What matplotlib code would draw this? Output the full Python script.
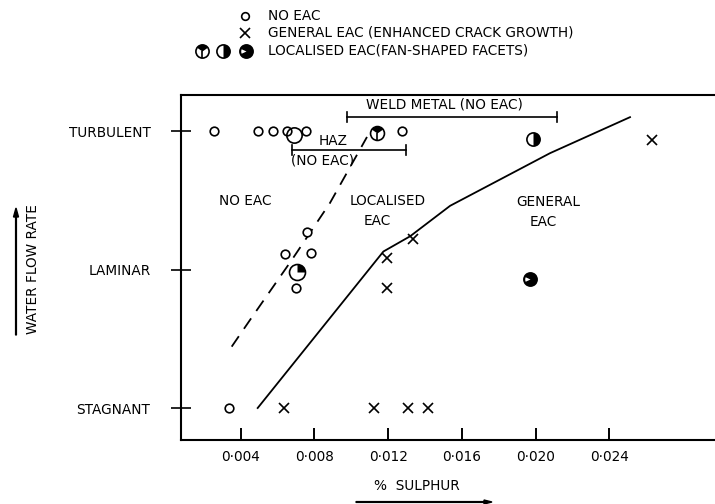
import numpy as np
import matplotlib
matplotlib.use("Agg")
import matplotlib.pyplot as plt
from matplotlib.path import Path
from matplotlib.transforms import Affine2D

plt.rcParams['font.family'] = ['DejaVu Sans']

# ---------------- data ----------------
flow_ticks = [0, 1, 2]
flow_labels = ["STAGNANT", "LAMINAR", "TURBULENT"]
sulphur_ticks = [0.004, 0.008, 0.012, 0.016, 0.020, 0.024]
sulphur_labels = ["0·004", "0·008", "0·012", "0·016", "0·020", "0·024"]

no_eac_x = [0.00257, 0.00492, 0.00574, 0.00649, 0.00754, 0.01273,
            0.00758, 0.00640, 0.00781, 0.00700, 0.00338]
no_eac_y = [2.0, 2.0, 2.0, 2.0, 2.0, 2.0, 1.27, 1.11, 1.12, 0.87, 0.0]
no_eac_big_x = [0.00689]
no_eac_big_y = [1.97]

general_x = [0.00635, 0.01125, 0.01309, 0.01415, 0.01192, 0.01192, 0.01333, 0.0263]
general_y = [0.0, 0.0, 0.0, 0.0, 1.085, 0.87, 1.22, 1.935]

local_x = [0.01138, 0.00704, 0.01984, 0.0197]
local_y = [1.985, 0.985, 1.94, 0.935]
local_kind = ["stem", "quarter", "half", "dark"]

general_boundary_x = [0.00492, 0.01174, 0.01319, 0.01536, 0.02078, 0.02512]
general_boundary_y = [0.0, 1.13, 1.24, 1.46, 1.84, 2.10]
noeac_boundary_x = [0.00351, 0.0045, 0.00677, 0.00884, 0.01085]
noeac_boundary_y = [0.443, 0.635, 1.069, 1.48, 1.957]

haz_range = [0.00677, 0.01297]
haz_level = 1.863
weld_range = [0.00978, 0.02118]
weld_level = 2.103

# ---------------- figure ----------------
W, H = 715, 504
fig = plt.figure(figsize=(W / 100, H / 100), dpi=100)
ax = fig.add_axes([181 / W, (H - 440) / H, (W - 181) / W, (440 - 95) / H])
ax.set_xlim(0.00076, 0.02973)
ax.set_ylim(-0.231, 2.26)

FS = 9.8
LW = 1.2

# custom marker paths
def wedge(t1, t2, n=40):
    t = np.radians(np.linspace(t1, t2, n))
    verts = [(0, 0)] + list(zip(np.cos(t), np.sin(t))) + [(0, 0)]
    codes = [Path.MOVETO] + [Path.LINETO] * n + [Path.CLOSEPOLY]
    return Path(verts, codes)

stem = Path([(0, 0), (0, -1)], [Path.MOVETO, Path.LINETO])


def draw_local(target, x, y, kind, size, **kw):
    if kind == "dark":
        target.plot(x, y, 'o', ms=size, mfc='black', mec='black', mew=LW, **kw)
        target.plot(x, y, ls='none', marker=wedge(155, 205), ms=size * 0.8,
                    mfc='white', mec='white', mew=0, **kw)
        return
    if kind == "stem":
        target.plot(x, y, ls='none', marker=wedge(35, 145), ms=size,
                    mfc='black', mec='black', mew=0, **kw)
        target.plot(x, y, ls='none', marker=stem, ms=size, mec='black', mew=LW, **kw)
    elif kind == "quarter":
        target.plot(x, y, ls='none', marker=wedge(0, 90), ms=size,
                    mfc='black', mec='black', mew=0, **kw)
    elif kind == "half":
        target.plot(x, y, ls='none', marker=wedge(-90, 90), ms=size,
                    mfc='black', mec='black', mew=0, **kw)
    target.plot(x, y, 'o', ms=size, mfc='none', mec='black', mew=LW, **kw)


# boundaries
ax.plot(general_boundary_x, general_boundary_y, color='black', lw=1.3)
ax.plot(noeac_boundary_x, noeac_boundary_y, color='black', lw=1.3,
        dashes=(7, 5))

# data points
ax.plot(no_eac_x, no_eac_y, 'o', ms=6.2, mfc='white', mec='black', mew=LW, ls='none')
ax.plot(no_eac_big_x, no_eac_big_y, 'o', ms=11, mfc='none', mec='black', mew=LW, ls='none')
ax.plot(general_x, general_y, 'x', ms=7, mec='black', mew=LW, ls='none')
local_sizes = {"stem": 10, "quarter": 11.5, "half": 9.5, "dark": 9.5}
for x, y, k in zip(local_x, local_y, local_kind):
    draw_local(ax, [x], [y], k, local_sizes[k])

# range brackets
for rng, lev in [(haz_range, haz_level), (weld_range, weld_level)]:
    ax.plot(rng, [lev, lev], color='black', lw=1.2)
    ax.plot([rng[0], rng[0]], [lev - 0.035, lev + 0.035], color='black', lw=1.2)
    ax.plot([rng[1], rng[1]], [lev - 0.035, lev + 0.035], color='black', lw=1.2)

ax.text(0.00900, 1.928, "HAZ", ha='center', va='center', fontsize=FS)
ax.text(0.00844, 1.79, "(NO EAC)", ha='center', va='center', fontsize=FS)
ax.text(0.01503, 2.195, "WELD METAL (NO EAC)", ha='center', va='center', fontsize=FS)

# region labels
ax.text(0.00423, 1.495, "NO EAC", ha='center', va='center', fontsize=FS)
ax.text(0.01199, 1.495, "LOCALISED", ha='center', va='center', fontsize=FS)
ax.text(0.01139, 1.35, "EAC", ha='center', va='center', fontsize=FS)
ax.text(0.02067, 1.487, "GENERAL", ha='center', va='center', fontsize=FS)
ax.text(0.02040, 1.343, "EAC", ha='center', va='center', fontsize=FS)

# axes styling
ax.set_xticks(sulphur_ticks)
ax.set_xticklabels(sulphur_labels, fontsize=FS)
ax.set_yticks(flow_ticks)
ax.set_yticklabels(flow_labels, fontsize=FS)
ax.tick_params(axis='x', direction='in', length=8.5, width=1.4, pad=7)
ax.tick_params(axis='y', direction='inout', length=14, width=1.2, pad=15)
for s in ['left', 'bottom', 'top']:
    ax.spines[s].set_linewidth(1.5)
ax.spines['right'].set_visible(False)

# ---------------- outside annotations (pixel layout) ----------------
pix = Affine2D().scale(1 / W, -1 / H).translate(0, 1) + fig.transFigure

fig.text(417 / W, 1 - 486 / H, "%  SULPHUR", ha='center', va='center', fontsize=FS)
fig.patches.append(matplotlib.patches.FancyArrow(
    356, 502, 136, 0, width=0.8, head_width=4, head_length=8, length_includes_head=True,
    transform=pix, color='black'))

fig.text(33 / W, 1 - 269 / H, "WATER FLOW RATE", ha='center', va='center',
         rotation=90, fontsize=FS)
fig.patches.append(matplotlib.patches.FancyArrow(
    16, 335, 0, -127, width=0.8, head_width=5, head_length=9, length_includes_head=True,
    transform=pix, color='black'))

# legend block
leg_text = ["NO EAC", "GENERAL EAC (ENHANCED CRACK GROWTH)",
            "LOCALISED EAC(FAN-SHAPED FACETS)"]
leg_rows = [16, 33, 51]
for t, yrow in zip(leg_text, leg_rows):
    fig.text(268 / W, 1 - yrow / H, t, ha='left', va='center', fontsize=FS)
fig.add_artist(plt.Line2D([245], [16], marker='o', ms=5.5, mfc='none', mec='black',
                          mew=LW, ls='none', transform=pix))
fig.add_artist(plt.Line2D([245], [33], marker='x', ms=7, mec='black',
                          mew=LW, ls='none', transform=pix))


class _FigPlot:
    def plot(self, x, y, *args, **kw):
        fmt = args[0] if args else None
        if fmt == 'o':
            kw.setdefault('marker', 'o')
            kw.setdefault('ls', 'none')
        fig.add_artist(plt.Line2D(x, y, transform=pix, **kw))


fp = _FigPlot()
for xk, kind in zip([202, 223, 246], ["stem", "half", "dark"]):
    draw_local(fp, [xk], [51], kind, 9.5)

fig.savefig("out.png", dpi=100)
